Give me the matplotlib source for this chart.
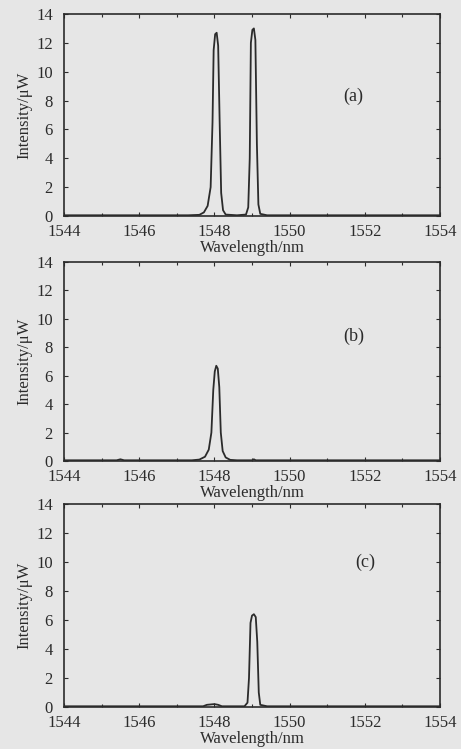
import matplotlib
matplotlib.use("Agg")
import matplotlib.pyplot as plt
from matplotlib.ticker import MultipleLocator

plt.rcParams['font.family'] = ['Liberation Serif', 'DejaVu Serif']

# spectrum (a): two lasing lines
wl_a = [1544.0, 1547.3, 1547.6, 1547.72, 1547.82, 1547.9, 1547.95, 1547.98, 1548.02,
        1548.06, 1548.1, 1548.14, 1548.18, 1548.23, 1548.3, 1548.6, 1548.84, 1548.9,
        1548.94, 1548.97, 1549.01, 1549.05, 1549.09, 1549.13, 1549.17, 1549.22, 1549.4, 1554.0]
int_a = [0.05, 0.05, 0.08, 0.25, 0.7, 2.0, 6.5, 11.5, 12.6, 12.7, 11.8, 6.5, 1.6, 0.4,
         0.1, 0.05, 0.1, 0.6, 4.0, 12.0, 12.9, 13.0, 12.2, 5.0, 0.8, 0.15, 0.05, 0.05]

# spectrum (b): single line near 1548.1 nm
wl_b = [1544.0, 1545.4, 1545.5, 1545.6, 1547.4, 1547.6, 1547.75, 1547.85, 1547.92, 1547.97,
        1548.01, 1548.05, 1548.09, 1548.13, 1548.17, 1548.22, 1548.3, 1548.42, 1548.6,
        1549.0, 1549.05, 1549.1, 1554.0]
int_b = [0.05, 0.05, 0.12, 0.05, 0.05, 0.1, 0.3, 0.8, 2.0, 5.0, 6.3, 6.7, 6.5, 5.2,
         2.0, 0.7, 0.25, 0.08, 0.05, 0.05, 0.12, 0.05, 0.05]

# spectrum (c): single line near 1549.05 nm
wl_c = [1544.0, 1547.7, 1547.8, 1548.0, 1548.1, 1548.2, 1548.8, 1548.88, 1548.92, 1548.96,
        1549.0, 1549.05, 1549.1, 1549.14, 1549.18, 1549.22, 1549.4, 1554.0]
int_c = [0.05, 0.05, 0.15, 0.2, 0.15, 0.05, 0.05, 0.3, 2.0, 5.8, 6.3, 6.4, 6.2, 4.5,
         1.0, 0.15, 0.05, 0.05]

panel_tags = ['(a)', '(b)', '(c)']
tag_x = [1551.7, 1551.7, 1552.0]
tag_y = [8.3, 8.8, 10.0]

W, H = 461, 749
fig = plt.figure(figsize=(W / 100, H / 100), dpi=100)
fig.patch.set_facecolor('#e6e6e6')

boxes = [(64, 14, 440, 216), (64, 262, 440, 461), (64, 504, 440, 707)]
series = [(wl_a, int_a), (wl_b, int_b), (wl_c, int_c)]
ink = '#2b2b2b'

for k, (x0, y0, x1, y1) in enumerate(boxes):
    ax = fig.add_axes([x0 / W, 1 - y1 / H, (x1 - x0) / W, (y1 - y0) / H])
    ax.set_facecolor('none')
    wl, inten = series[k]
    ax.plot(wl, inten, color=ink, lw=1.3)
    ax.set_xlim(1544, 1554)
    ax.set_ylim(0, 14)
    ax.xaxis.set_major_locator(MultipleLocator(2))
    ax.xaxis.set_minor_locator(MultipleLocator(1))
    ax.yaxis.set_major_locator(MultipleLocator(2))
    ax.tick_params(which='both', direction='in', top=True, right=True, colors=ink,
                   labelsize=12, width=0.8)
    ax.tick_params(which='major', length=3)
    ax.tick_params(which='minor', length=2)
    ax.tick_params(axis='x', pad=6)
    ax.tick_params(axis='y', pad=8)
    for sp in ax.spines.values():
        sp.set_color(ink)
        sp.set_linewidth(1.2)
    ax.set_xlabel('Wavelength/nm', fontsize=12, color=ink, labelpad=0)
    ax.set_ylabel('Intensity/μW', fontsize=12, color=ink, labelpad=3)
    ax.text(tag_x[k], tag_y[k], panel_tags[k], fontsize=13, color=ink,
            ha='center', va='center')

fig.savefig('out.png', dpi=100, facecolor=fig.get_facecolor())
